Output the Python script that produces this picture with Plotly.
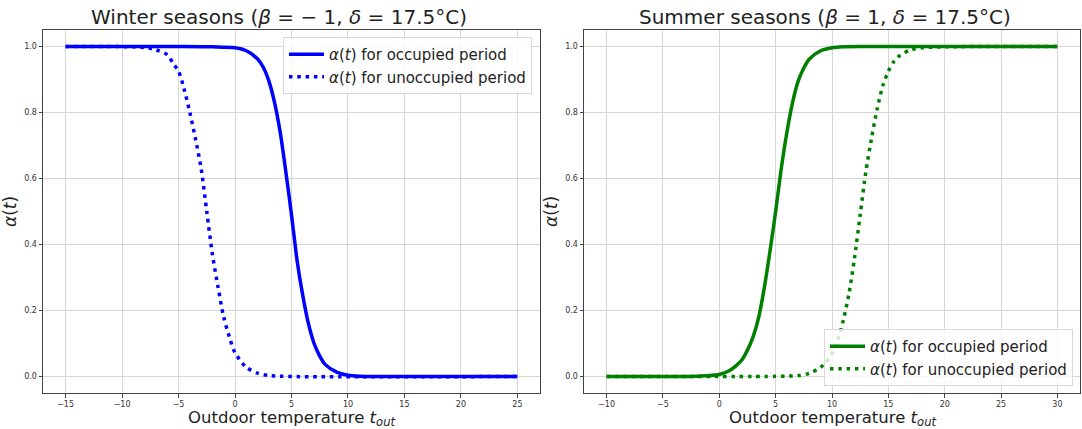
import plotly.graph_objects as go

# Outdoor temperature samples (°C) and comfort weights alpha(t)
winter_occ_t = [-15, -5, -2, 0, 1, 2, 2.5, 3, 3.5, 4, 4.5, 5, 5.5, 6, 6.5, 7, 7.5, 8, 9, 10, 11, 13, 25]
winter_occ_a = [1.0, 1.0, 0.999, 0.996, 0.987, 0.962, 0.937, 0.895, 0.83, 0.74, 0.62, 0.49, 0.35, 0.245,
                0.16, 0.10, 0.062, 0.036, 0.013, 0.004, 0.001, 0.0, 0.0]

winter_unocc_t = [-15, -8, -7, -6, -5.5, -5, -4.5, -4, -3.5, -3, -2.5, -2, -1.5, -1, -0.5, 0, 1, 2, 3, 5, 25]
winter_unocc_a = [1.0, 0.997, 0.99, 0.975, 0.95, 0.925, 0.87, 0.80, 0.72, 0.63, 0.50, 0.37, 0.27, 0.18,
                  0.12, 0.072, 0.028, 0.01, 0.003, 0.0, 0.0]

summer_occ_t = [-10, -2, 0, 1, 1.5, 2, 2.5, 3, 3.5, 4, 4.5, 5, 5.5, 6, 6.5, 7, 7.5, 8, 9, 10, 11, 13, 30]
summer_occ_a = [0.0, 0.001, 0.006, 0.02, 0.033, 0.05, 0.08, 0.12, 0.18, 0.27, 0.38, 0.50, 0.63, 0.74,
                0.83, 0.895, 0.935, 0.962, 0.987, 0.996, 0.999, 1.0, 1.0]

summer_unocc_t = [-10, 5, 7, 8, 9, 9.5, 10, 10.5, 11, 11.5, 12, 12.5, 13, 13.5, 14, 14.5, 15, 15.5, 16,
                  17, 18, 20, 30]
summer_unocc_a = [0.0, 0.0005, 0.003, 0.01, 0.028, 0.045, 0.07, 0.11, 0.17, 0.25, 0.36, 0.49, 0.62,
                  0.72, 0.81, 0.88, 0.925, 0.955, 0.972, 0.99, 0.996, 0.999, 1.0]

winter_ticks = [-15, -10, -5, 0, 5, 10, 15, 20, 25]
summer_ticks = [-10, -5, 0, 5, 10, 15, 20, 25, 30]
alpha_ticks = [0.0, 0.2, 0.4, 0.6, 0.8, 1.0]

FONT = "DejaVu Sans"
W, H = 1082, 429
ML, MR, MT, MB = 43, 2, 30, 36
PW = W - ML - MR
PH = H - MT - MB

def px_x(p):
    return (p - ML) / PW

def px_y(p):
    return (H - MB - p) / PH

BLUE = "#0000ff"
GREEN = "#008000"
DOT = "3.5px,4.8px"

occ_name = "<i>α</i>(<i>t</i>) for occupied period"
unocc_name = "<i>α</i>(<i>t</i>) for unoccupied period"

fig = go.Figure()
fig.add_trace(go.Scatter(x=winter_occ_t, y=winter_occ_a, mode="lines", name=occ_name,
                         line=dict(color=BLUE, width=3.5, shape="spline", smoothing=0.8),
                         xaxis="x", yaxis="y", legend="legend"))
fig.add_trace(go.Scatter(x=winter_unocc_t, y=winter_unocc_a, mode="lines", name=unocc_name,
                         line=dict(color=BLUE, width=3.5, dash=DOT, shape="spline", smoothing=0.8),
                         xaxis="x", yaxis="y", legend="legend"))
fig.add_trace(go.Scatter(x=summer_occ_t, y=summer_occ_a, mode="lines", name=occ_name,
                         line=dict(color=GREEN, width=3.5, shape="spline", smoothing=0.8),
                         xaxis="x2", yaxis="y2", legend="legend2"))
fig.add_trace(go.Scatter(x=summer_unocc_t, y=summer_unocc_a, mode="lines", name=unocc_name,
                         line=dict(color=GREEN, width=3.5, dash=DOT, shape="spline", smoothing=0.8),
                         xaxis="x2", yaxis="y2", legend="legend2"))

axis_common = dict(showline=True, linecolor="#444444", linewidth=1, mirror=True,
                   showgrid=True, gridcolor="#d6d6d6", gridwidth=1, zeroline=False,
                   ticks="outside", ticklen=3.5, tickcolor="#444444", automargin=False,
                   tickfont=dict(family=FONT, size=8, color="#333333"))

TEXT = "#222222"
yt_title = dict(text="<i>α</i>(<i>t</i>)", font=dict(family=FONT, size=17, color=TEXT), standoff=3)
x_label = "Outdoor temperature <i>t</i><sub><i>out</i></sub>"

legend_common = dict(bgcolor="rgba(255,255,255,0.8)", bordercolor="#d9d9d9", borderwidth=1,
                     font=dict(family=FONT, size=15, color=TEXT), itemwidth=35,
                     tracegroupgap=0, xref="paper", yref="paper")

def label(text, xp, yp, size, yanchor="middle"):
    return dict(text=text, x=px_x(xp), y=px_y(yp), xref="paper", yref="paper",
                xanchor="center", yanchor=yanchor, showarrow=False, borderpad=0,
                font=dict(family=FONT, size=size, color=TEXT))

fig.update_layout(
    width=W, height=H,
    margin=dict(l=ML, r=MR, t=MT, b=MB, autoexpand=False),
    paper_bgcolor="white", plot_bgcolor="white",
    font=dict(family=FONT),
    showlegend=True,
    xaxis=dict(domain=[0, px_x(540)], range=[-17, 27], tickvals=winter_ticks,
               anchor="y", **axis_common),
    yaxis=dict(domain=[0, 1], range=[-0.05, 1.05], tickvals=alpha_ticks, tickformat=".1f",
               title=yt_title, anchor="x", **axis_common),
    xaxis2=dict(domain=[px_x(584), 1], range=[-12, 32], tickvals=summer_ticks,
                anchor="y2", **axis_common),
    yaxis2=dict(domain=[0, 1], range=[-0.05, 1.05], tickvals=alpha_ticks, tickformat=".1f",
                title=yt_title, anchor="x2", **axis_common),
    legend=dict(x=px_x(532), y=px_y(37), xanchor="right", yanchor="top", **legend_common),
    legend2=dict(x=px_x(1073), y=px_y(386), xanchor="right", yanchor="bottom", **legend_common),
    annotations=[
        label("Winter seasons (<i>β</i> = − 1, <i>δ</i> = 17.5°C)", 279, 17, 20),
        label("Summer seasons (<i>β</i> = 1, <i>δ</i> = 17.5°C)", 825, 17, 20),
        label(x_label, 291.5, 406.5, 16.5, "top"),
        label(x_label, 832, 406.5, 16.5, "top"),
    ],
)

fig.write_html("out.html")
